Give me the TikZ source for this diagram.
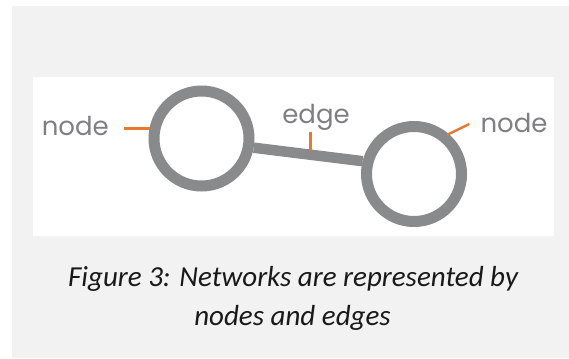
\documentclass[tikz,border=0pt]{standalone}
\usepackage{fontspec}
\setmainfont{Carlito}[ItalicFont={Carlito Italic}]
\newfontfamily\labelfont{Poppins}
\definecolor{panelgray}{HTML}{F2F2F2}
\definecolor{ringgray}{HTML}{898A8C}
\definecolor{textgray}{HTML}{7E7F81}
\definecolor{tickorange}{HTML}{E5792F}
\begin{document}
\begin{tikzpicture}[x=1pt,y=-1pt,
  ring/.style={circle,draw=ringgray,line width=11pt,fill=white,minimum size=95pt,inner sep=0pt},
  link/.style={draw=ringgray,line width=10.5pt},
  tickline/.style={draw=tickorange,line width=2.4pt},
  lbl/.style={font=\labelfont\fontsize{26}{30}\selectfont,text=textgray,inner sep=0pt,anchor=base},
  captext/.style={font=\itshape\fontsize{29}{34}\selectfont,text=black!90,inner sep=0pt,anchor=base}]
\useasboundingbox (0,0) rectangle (569,358);
\fill[white] (0,0) rectangle (569,358);
\fill[panelgray] (12,6) rectangle (569,358);
\fill[white] (33,76.7) rectangle (554,235.7);
% circles (nodes)
\node[ring] (L) at (201.5,138.5) {};
\node[ring] (R) at (414,174) {};
% edge
\draw[link] (L.-10) -- (R.166);
% orange pointers
\coordinate (lt) at (124,128.7);
\coordinate (la) at (150,128.7);
\coordinate (et) at (310.5,131.7);
\coordinate (ea) at (310.5,151);
\coordinate (rt) at (469.3,124);
\coordinate (ra) at (446.7,135);
\draw[tickline] (lt) -- (la);
\draw[tickline] (et) -- (ea);
\draw[tickline] (rt) -- (ra);
% labels
\node[lbl] (nl) at (75.3,135.7) {node};
\node[lbl] (el) at (316,123.3) {edge};
\node[lbl] (nr) at (514,132.7) {node};
% caption
\node[captext] (c1) at (293,286.7) {Figure 3: Networks are represented by};
\node[captext] (c2) at (292.5,325) {nodes and edges};
\end{tikzpicture}
\end{document}
